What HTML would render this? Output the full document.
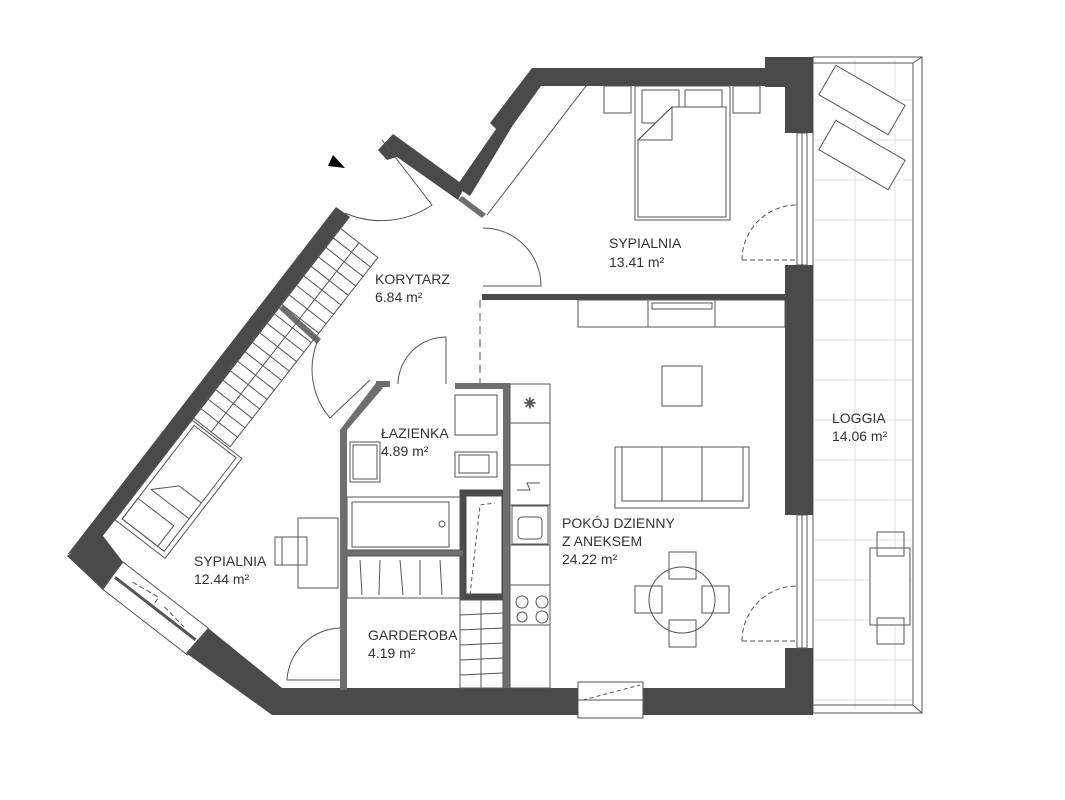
<!DOCTYPE html>
<html><head><meta charset="utf-8"><style>
html,body{margin:0;padding:0;background:#fff;}
svg{display:block}
text{font-family:"Liberation Sans",sans-serif;font-size:14px;fill:#333;}
</style></head><body>
<svg width="1065" height="800" viewBox="0 0 1065 800" xmlns="http://www.w3.org/2000/svg">
<g stroke="#e3e3e3" stroke-width="1">
<line x1="855" y1="60" x2="855" y2="710"/><line x1="895" y1="60" x2="895" y2="710"/>
<line x1="815" y1="100" x2="912" y2="100"/><line x1="815" y1="140" x2="912" y2="140"/><line x1="815" y1="180" x2="912" y2="180"/><line x1="815" y1="220" x2="912" y2="220"/><line x1="815" y1="260" x2="912" y2="260"/><line x1="815" y1="300" x2="912" y2="300"/><line x1="815" y1="340" x2="912" y2="340"/><line x1="815" y1="380" x2="912" y2="380"/><line x1="815" y1="420" x2="912" y2="420"/><line x1="815" y1="460" x2="912" y2="460"/><line x1="815" y1="500" x2="912" y2="500"/><line x1="815" y1="540" x2="912" y2="540"/><line x1="815" y1="580" x2="912" y2="580"/><line x1="815" y1="620" x2="912" y2="620"/><line x1="815" y1="660" x2="912" y2="660"/><line x1="815" y1="700" x2="912" y2="700"/>
</g>
<g fill="none" stroke="#555" stroke-width="1">
<rect x="813" y="57" width="109" height="656"/>
<polyline points="813,63 913,63 913,705 813,705"/>
<line x1="913" y1="63" x2="922" y2="57"/><line x1="913" y1="705" x2="922" y2="713"/>
</g>
<g fill="#4a4a4a">
<polygon points="532,68 785,68 785,86 541,86 513,125 470,196 456,187 496,129 490,123"/>
<rect x="766" y="57" width="47" height="30"/>
<rect x="785" y="57" width="28" height="76"/>
<rect x="785" y="265" width="28" height="250"/>
<rect x="785" y="648" width="28" height="67"/>
<polygon points="378,150 393,134 465,186 458,200 397,157 387,160"/>
<polygon points="336,207 350,217 102,537 80,548 67,555"/>
<polygon points="67,556 100,532 123,562 103,590"/>
<polygon points="186,653 208,628 282,688 282,715 272,715"/>
<rect x="272" y="688" width="306" height="27"/>
<rect x="643" y="688" width="170" height="27"/>
<rect x="482" y="294" width="303" height="6"/>
<rect x="463" y="493" width="42" height="104" fill="none" stroke="#4a4a4a" stroke-width="7"/>
</g>
<g fill="#6e6e6e">
<polygon points="458,200 462,196 486,214 482,218"/>
<polygon points="279,309 283,305 321,339 317,344"/>
<rect x="340" y="430" width="7" height="260"/>
<polygon points="340,430 347,430 383,388 376,383"/>
<rect x="376" y="381" width="14" height="6"/>
<rect x="455" y="383" width="52" height="6"/>
<rect x="503" y="383" width="7" height="305"/>
<rect x="347" y="550" width="116" height="6"/>
</g>
<g fill="none" stroke="#555" stroke-width="1">
<rect x="797" y="133" width="10" height="132"/><line x1="802" y1="133" x2="802" y2="265"/>
<rect x="797" y="515" width="10" height="133"/><line x1="802" y1="515" x2="802" y2="648"/>
<rect x="578" y="682" width="65" height="36"/><line x1="578" y1="700" x2="643" y2="700"/>
<path d="M583,700 L640,685" stroke-dasharray="4,3"/>
<g transform="translate(123,562) rotate(37.8)"><rect x="0" y="0" width="108" height="34"/><line x1="3" y1="17" x2="105" y2="17" stroke-width="3"/><path d="M20,10 L50,6 L50,16 M60,10 L88,14" stroke-dasharray="5,3"/></g>
<path d="M345,213 A90,90 0 0 0 432,205 L382,140"/>
<path d="M483,228 A58,58 0 0 1 541,286 L483,286"/>
<path d="M318,340 A75,75 0 0 0 330,418 L370,380"/>
<path d="M398,384 A48,48 0 0 1 446,337 L446,384"/>
<path d="M340,628 A55,55 0 0 0 287,680 L340,680"/>
<path d="M742,260 A55,55 0 0 1 797,205" stroke-dasharray="5,3"/><line x1="742" y1="260" x2="797" y2="260" stroke-dasharray="5,3"/>
<path d="M742,641 A55,55 0 0 1 797,586" stroke-dasharray="5,3"/><line x1="742" y1="641" x2="797" y2="641" stroke-dasharray="5,3"/>
<line x1="480" y1="300" x2="480" y2="385" stroke-dasharray="8,5"/>
<line x1="487" y1="215" x2="586" y2="86"/>
<rect x="604" y="86" width="27" height="27"/><rect x="733" y="86" width="27" height="27"/>
<rect x="635" y="86" width="95" height="134"/>
<rect x="642" y="90" width="37" height="33"/><rect x="685" y="90" width="37" height="33"/>
<path d="M638,140 L672,107 L726,107 L726,217 L638,217 Z" fill="#fff"/>
<path d="M638,140 L672,107 L672,140 Z"/>
<rect x="578" y="300" width="207" height="27"/><line x1="648" y1="300" x2="648" y2="327"/><line x1="715" y1="300" x2="715" y2="327"/>
<rect x="652" y="303" width="60" height="6"/>
<rect x="662" y="366" width="40" height="40"/>
<rect x="615" y="447" width="134" height="61"/><rect x="622" y="447" width="121" height="54"/><line x1="662" y1="447" x2="662" y2="501"/><line x1="702" y1="447" x2="702" y2="501"/>
<circle cx="682" cy="600" r="33"/>
<rect x="669" y="552" width="27" height="27"/><rect x="669" y="620" width="27" height="27"/>
<rect x="635" y="586" width="27" height="27"/><rect x="702" y="586" width="27" height="27"/>
<rect x="510" y="384" width="40" height="304"/>
<line x1="510" y1="423" x2="550" y2="423"/><line x1="510" y1="465" x2="550" y2="465"/><line x1="510" y1="505" x2="550" y2="505"/><line x1="510" y1="545" x2="550" y2="545"/><line x1="510" y1="585" x2="550" y2="585"/><line x1="510" y1="625" x2="550" y2="625"/>
<rect x="512" y="506" width="36" height="38"/><rect x="518" y="517" width="24" height="22" rx="4"/>
<circle cx="522" cy="602" r="6"/><circle cx="542" cy="602" r="6"/><circle cx="522" cy="617" r="5"/><circle cx="542" cy="617" r="6"/>
<path d="M517,490 L530,490 L527,483 L540,483"/>
<text x="524" y="408" style="font-size:14px">✳</text>
<rect x="455" y="395" width="42" height="40"/><rect x="455" y="452" width="42" height="25"/><rect x="459" y="455" width="30" height="18"/>
<rect x="350" y="442" width="30" height="40"/><rect x="353" y="445" width="24" height="34"/>
<rect x="347" y="497" width="113" height="53"/><rect x="352" y="502" width="97" height="45"/><circle cx="442" cy="524" r="3"/>
<path d="M470,595 L480,505 L495,503" stroke-dasharray="4,3"/>
<rect x="347" y="556" width="116" height="42"/>
<line x1="360" y1="560" x2="362" y2="595"/><line x1="380" y1="560" x2="379" y2="595"/><line x1="400" y1="560" x2="403" y2="595"/><line x1="420" y1="560" x2="420" y2="595"/><line x1="440" y1="560" x2="442" y2="595"/>
<rect x="460" y="600" width="43" height="88"/>
<line x1="460" y1="615" x2="503" y2="613"/><line x1="460" y1="630" x2="503" y2="628"/><line x1="460" y1="645" x2="503" y2="643"/><line x1="460" y1="660" x2="503" y2="658"/><line x1="460" y1="675" x2="503" y2="673"/><line x1="481" y1="600" x2="481" y2="688"/>
<rect x="298" y="518" width="40" height="70"/><rect x="275" y="537" width="32" height="28"/><line x1="282" y1="537" x2="282" y2="565"/>
<g transform="translate(192,420) rotate(127.6)"><rect x="0" y="-63" width="126" height="63"/><rect x="3" y="-58" width="118" height="53"/><rect x="95" y="-50" width="26" height="45"/><path d="M60,-58 L60,-30 L80,-10 L80,-58"/></g>
<g transform="translate(340,228) rotate(128)"><rect x="0" y="-48" width="240" height="48"/><line x1="0" y1="-24" x2="240" y2="-24"/>
<line x1="12" y1="-48" x2="12" y2="0"/><line x1="24" y1="-48" x2="24" y2="0"/><line x1="36" y1="-48" x2="36" y2="0"/><line x1="48" y1="-48" x2="48" y2="0"/><line x1="60" y1="-48" x2="60" y2="0"/><line x1="72" y1="-48" x2="72" y2="0"/><line x1="84" y1="-48" x2="84" y2="0"/><line x1="96" y1="-48" x2="96" y2="0"/><line x1="108" y1="-48" x2="108" y2="0"/><line x1="120" y1="-48" x2="120" y2="0"/><line x1="132" y1="-48" x2="132" y2="0"/><line x1="144" y1="-48" x2="144" y2="0"/><line x1="156" y1="-48" x2="156" y2="0"/><line x1="168" y1="-48" x2="168" y2="0"/><line x1="180" y1="-48" x2="180" y2="0"/><line x1="192" y1="-48" x2="192" y2="0"/><line x1="204" y1="-48" x2="204" y2="0"/><line x1="216" y1="-48" x2="216" y2="0"/><line x1="228" y1="-48" x2="228" y2="0"/></g>
<g transform="translate(862,100) rotate(30)"><rect x="-40" y="-17" width="80" height="34" fill="#fff"/></g>
<g transform="translate(862,155) rotate(30)"><rect x="-40" y="-17" width="80" height="34" fill="#fff"/></g>
<rect x="870" y="548" width="40" height="77" fill="#fff"/><rect x="877" y="532" width="27" height="24"/><rect x="877" y="618" width="27" height="26"/>
</g>
<rect x="765" y="57" width="48" height="30" fill="#4a4a4a"/>
<polygon points="333,155 345,168 328,166" fill="#000"/>
<text x="375" y="284">KORYTARZ</text><text x="375" y="302">6.84 m²</text>
<text x="609" y="248">SYPIALNIA</text><text x="609" y="267">13.41 m²</text>
<text x="381" y="438">ŁAZIENKA</text><text x="381" y="456">4.89 m²</text>
<text x="194" y="566">SYPIALNIA</text><text x="194" y="584">12.44  m²</text>
<text x="368" y="640">GARDEROBA</text><text x="368" y="658">4.19 m²</text>
<text x="562" y="528">POKÓJ DZIENNY</text><text x="562" y="546">Z ANEKSEM</text><text x="562" y="564">24.22 m²</text>
<text x="832" y="423">LOGGIA</text><text x="832" y="441">14.06 m²</text>
</svg>
</body></html>
